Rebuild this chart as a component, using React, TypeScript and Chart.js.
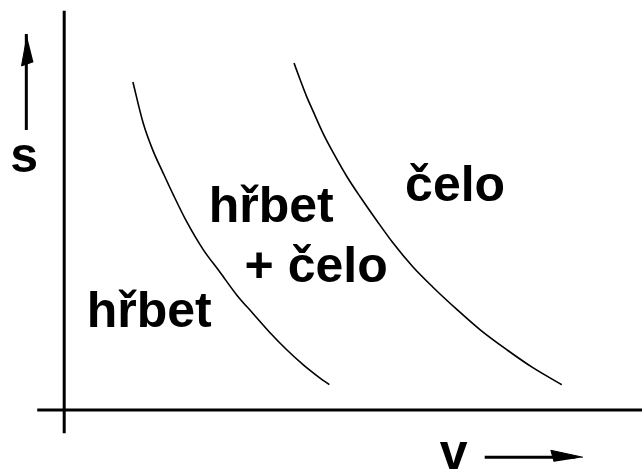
import React, { useEffect, useRef } from "react";
import { Chart, registerables } from "chart.js";

Chart.register(...registerables);

// Plot domain: speed v (horizontal) and distance s (vertical), origin where the axes cross.
const V_RANGE = [-1, 9];
const S_RANGE = [-1, 6.5];

// Left boundary curve (between "hřbet" and "hřbet + čelo").
const curve1V = [1.07, 1.23, 1.38, 1.54, 1.7, 1.91, 2.16, 2.43, 2.69, 2.94, 3.21, 3.47, 3.72, 3.98, 4.13];
const curve1S = [5.2, 4.55, 4.12, 3.76, 3.41, 2.98, 2.55, 2.18, 1.82, 1.53, 1.22, 0.95, 0.72, 0.51, 0.4];

// Right boundary curve (between "hřbet + čelo" and "čelo").
const curve2V = [3.58, 3.67, 3.78, 3.88, 4.03, 4.19, 4.41, 4.61, 4.87, 5.12, 5.43, 5.74, 6.12, 6.48, 6.9, 7.3, 7.75];
const curve2S = [5.5, 5.25, 4.96, 4.73, 4.39, 4.08, 3.69, 3.38, 3.0, 2.65, 2.27, 1.95, 1.59, 1.27, 0.95, 0.67, 0.4];

// Axis lines.
const sAxisV = [0, 0];
const sAxisS = [6.33, -0.37];
const vAxisV = [-0.42, 9];
const vAxisS = [0, 0];

// Direction arrows beside the axis names.
const upShaftV = [-0.59, -0.59];
const upShaftS = [5.96, 4.44];
const upHeadV = [-0.58, -0.665, -0.48];
const upHeadS = [5.93, 5.455, 5.52];
const rightShaftV = [6.55, 7.96];
const rightShaftS = [-0.75, -0.75];
const rightHeadV = [8.08, 7.58, 7.63];
const rightHeadS = [-0.75, -0.64, -0.82];

// Region and axis names.
const labelTexts = ["s", "hřbet", "+ čelo", "hřbet", "čelo", "v"];
const labelV = [-0.84, 2.25, 2.81, 0.35, 5.31, 5.85];
const labelS = [3.774, 2.981, 2.022, 1.316, 3.314, -0.936];

const toPoints = (xs: number[], ys: number[]) => xs.map((x, i) => ({ x, y: ys[i] }));

const labelPlugin = {
  id: "regionLabels",
  afterDatasetsDraw(chart: any) {
    const { ctx, scales } = chart;
    ctx.save();
    ctx.fillStyle = "#000";
    ctx.font = "bold 50px 'Liberation Sans', Arial, sans-serif";
    ctx.textAlign = "left";
    ctx.textBaseline = "alphabetic";
    labelTexts.forEach((t, i) => {
      ctx.fillText(t, scales.x.getPixelForValue(labelV[i]), scales.y.getPixelForValue(labelS[i]));
    });
    ctx.restore();
  },
};

export default function App() {
  const canvasRef = useRef<HTMLCanvasElement | null>(null);

  useEffect(() => {
    const canvas = canvasRef.current;
    if (!canvas) return;
    const line = (xs: number[], ys: number[], width: number) => ({
      data: toPoints(xs, ys),
      showLine: true,
      borderColor: "#000",
      borderWidth: width,
      pointRadius: 0,
      fill: false,
    });
    const head = (xs: number[], ys: number[]) => ({
      data: toPoints(xs, ys),
      showLine: true,
      borderColor: "#000",
      borderWidth: 1,
      backgroundColor: "#000",
      pointRadius: 0,
      fill: "shape",
    });
    const curve = (xs: number[], ys: number[]) => ({
      ...line(xs, ys, 1.6),
      cubicInterpolationMode: "monotone",
    });
    const chart = new Chart(canvas, {
      type: "scatter",
      data: {
        datasets: [
          line(sAxisV, sAxisS, 3),
          line(vAxisV, vAxisS, 3),
          curve(curve1V, curve1S),
          curve(curve2V, curve2S),
          line(upShaftV, upShaftS, 3),
          head(upHeadV, upHeadS),
          line(rightShaftV, rightShaftS, 3),
          head(rightHeadV, rightHeadS),
        ] as any,
      },
      options: {
        animation: false,
        responsive: false,
        events: [],
        layout: { padding: 0 },
        plugins: { legend: { display: false }, tooltip: { enabled: false } },
        scales: {
          x: { type: "linear", display: false, min: V_RANGE[0], max: V_RANGE[1] },
          y: { type: "linear", display: false, min: S_RANGE[0], max: S_RANGE[1] },
        },
      },
      plugins: [labelPlugin],
    });
    return () => chart.destroy();
  }, []);

  return (
    <div style={{ position: "fixed", left: 0, top: 0, width: 642, height: 473, background: "#fff" }}>
      <canvas ref={canvasRef} width={642} height={473} />
    </div>
  );
}
